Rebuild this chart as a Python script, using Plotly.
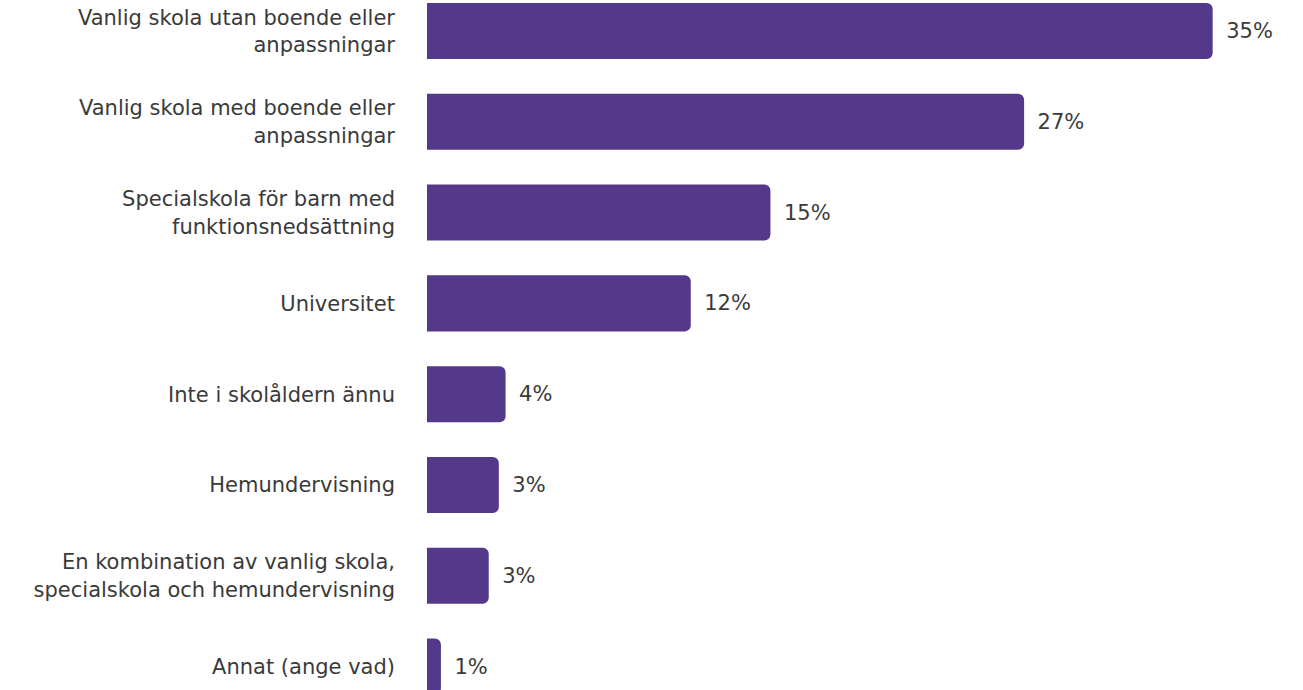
import plotly.graph_objects as go

categories = [
    "Vanlig skola utan boende eller<br>anpassningar",
    "Vanlig skola med boende eller<br>anpassningar",
    "Specialskola för barn med<br>funktionsnedsättning",
    "Universitet",
    "Inte i skolåldern ännu",
    "Hemundervisning",
    "En kombination av vanlig skola,<br>specialskola och hemundervisning",
    "Annat (ange vad)",
]
values = [35.0, 26.6, 15.3, 11.75, 3.5, 3.2, 2.75, 0.62]
value_labels = ["35%", "27%", "15%", "12%", "4%", "3%", "3%", "1%"]

bar_color = "#54388A"
text_color = "#3a3a3a"
font_family = "DejaVu Sans, Verdana, sans-serif"

fig = go.Figure(
    go.Bar(
        x=values,
        y=list(range(len(categories))),
        orientation="h",
        marker=dict(color=bar_color, line=dict(width=0)),
        width=0.617,
        text=["\u2002" + t for t in value_labels],
        textposition="outside",
        cliponaxis=False,
        textfont=dict(family=font_family, size=21, color=text_color),
        hoverinfo="skip",
    )
)

fig.update_layout(
    width=1303,
    height=690,
    margin=dict(l=427, r=23, t=0, b=0, autoexpand=False),
    paper_bgcolor="white",
    plot_bgcolor="white",
    barcornerradius=6,
    showlegend=False,
    font=dict(family=font_family, size=21, color=text_color),
    xaxis=dict(
        range=[0, 38],
        visible=False,
        showgrid=False,
        zeroline=False,
        automargin=False,
    ),
    yaxis=dict(
        range=[7.258, -0.341],
        tickmode="array",
        tickvals=list(range(len(categories))),
        ticktext=categories,
        showgrid=False,
        zeroline=False,
        showline=False,
        ticks="",
        automargin=False,
        ticklabelstandoff=31,
        ticklabeloverflow="allow",
        tickfont=dict(family=font_family, size=21, color=text_color),
    ),
)

fig.write_html(
    "out.html",
    config={"displayModeBar": False},
    post_script="document.body.style.margin='0';document.body.style.overflow='hidden';",
)
